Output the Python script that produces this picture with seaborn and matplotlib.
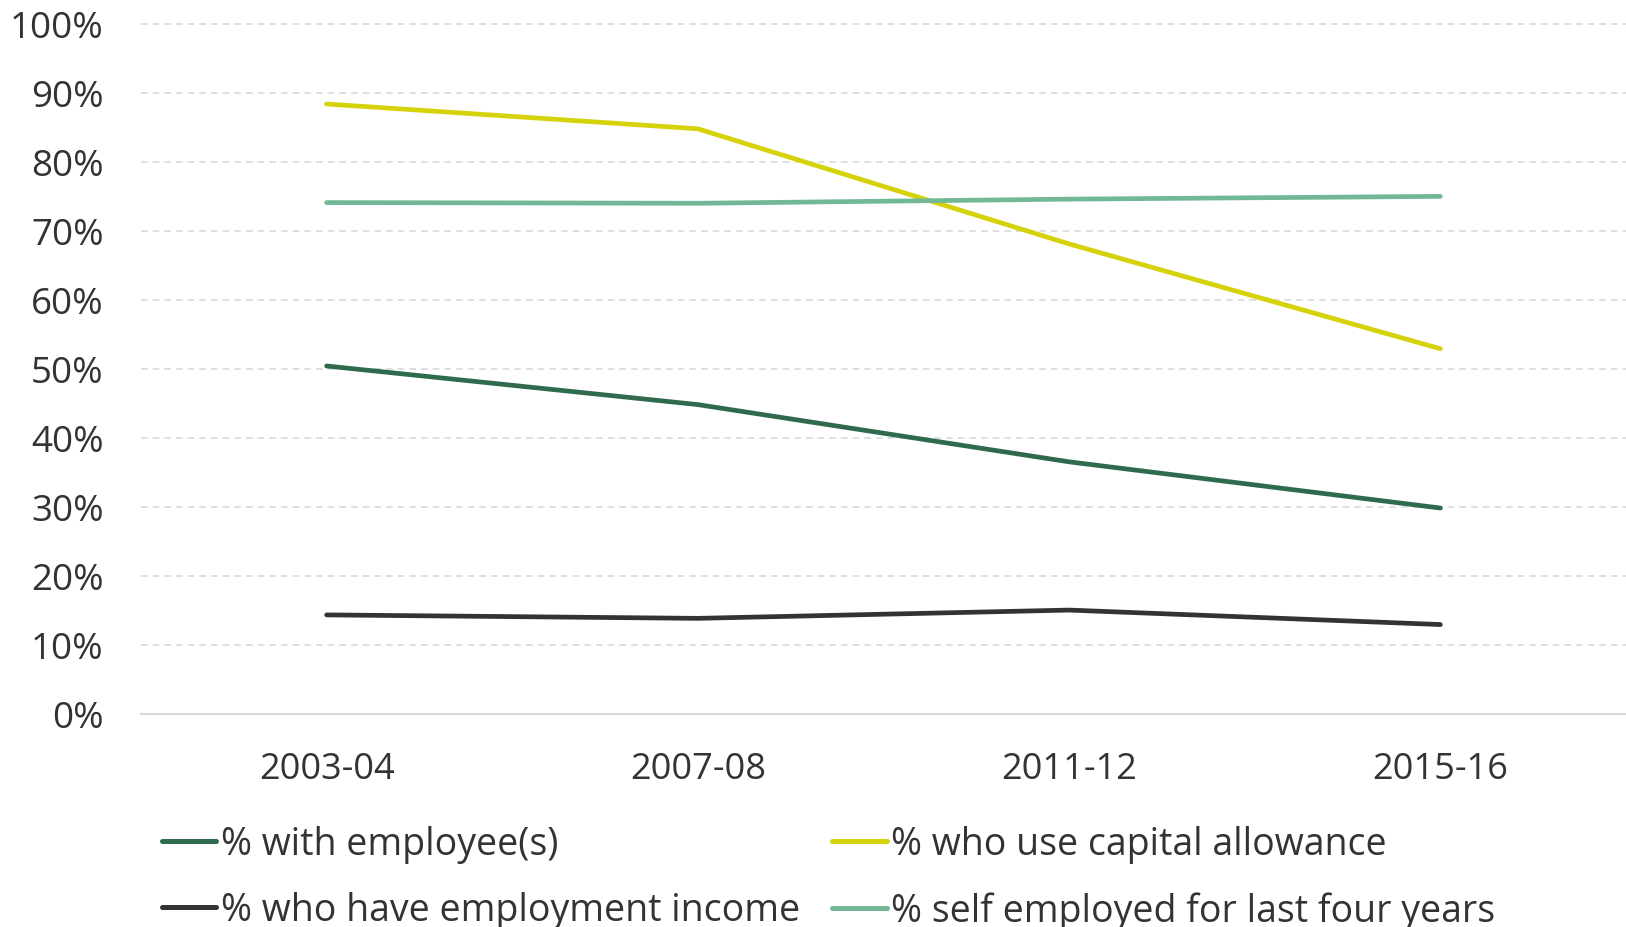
import matplotlib
matplotlib.use("Agg")
import matplotlib.pyplot as plt
import seaborn as sns
import pandas as pd
from matplotlib.ticker import PercentFormatter, FixedLocator
from matplotlib.lines import Line2D

years = ["2003-04", "2007-08", "2011-12", "2015-16"]
with_employees = [0.504, 0.448, 0.365, 0.298]
capital_allowance = [0.884, 0.848, 0.681, 0.529]
employment_income = [0.143, 0.138, 0.150, 0.129]
self_employed_4yrs = [0.741, 0.740, 0.746, 0.750]

series_names = ["% with employee(s)", "% who use capital allowance",
                "% who have employment income", "% self employed for last four years"]
series_values = [with_employees, capital_allowance, employment_income, self_employed_4yrs]
colors = ["#2f6a4f", "#d6d20a", "#333333", "#72b897"]

rows = []
for name, vals in zip(series_names, series_values):
    for i, (y, v) in enumerate(zip(years, vals)):
        rows.append({"year": y, "x": i, "value": v, "series": name})
df = pd.DataFrame(rows)

sns.set_theme(style="white")
plt.rcParams['font.family'] = ['Open Sans', 'DejaVu Sans']
text_color = "#333333"

fig = plt.figure(figsize=(16.26, 9.28), dpi=100)
ax = fig.add_axes([141/1626, 1 - 714.5/928, 1 - 141/1626, (714.5 - 25)/928])

sns.lineplot(data=df, x="x", y="value", hue="series", hue_order=series_names,
             palette=dict(zip(series_names, colors)), linewidth=3.4,
             ax=ax, legend=False, solid_capstyle="round", zorder=3)

ax.set_xlim(-0.5, 3.5)
ax.set_ylim(0, 1.0)
ax.yaxis.set_major_locator(FixedLocator([i / 10 for i in range(11)]))
ax.yaxis.set_major_formatter(PercentFormatter(1.0, decimals=0))
ax.set_xticks(range(len(years)))
ax.set_xticklabels(years)
ax.set_xlabel("")
ax.set_ylabel("")

for sp in ["top", "right", "left"]:
    ax.spines[sp].set_visible(False)
ax.spines["bottom"].set_color("#d9d9d9")
ax.spines["bottom"].set_linewidth(1.5)

for t in [i / 10 for i in range(1, 11)]:
    ax.axhline(t, color="#d9d9d9", linewidth=1.2, linestyle=(0, (4, 3)), zorder=1, clip_on=False)

ax.tick_params(axis="y", length=0, pad=27, labelsize=26.5, labelcolor=text_color)
ax.tick_params(axis="x", length=0, pad=27, labelsize=26, labelcolor=text_color)

order = [0, 2, 1, 3]
handles = [Line2D([0], [0], color=colors[i], lw=3.6, solid_capstyle="round") for i in order]
labels = [series_names[i] for i in order]
leg = fig.legend(handles, labels, loc="upper left", bbox_to_anchor=(162/1626, 1 - 826/928),
                 ncol=2, frameon=False, fontsize=27, handlelength=1.45, handletextpad=0.12,
                 columnspacing=0.86, labelspacing=0.76, borderaxespad=0, borderpad=0)
for t in leg.get_texts():
    t.set_color(text_color)

fig.savefig("out.png", dpi=100, facecolor="white")
